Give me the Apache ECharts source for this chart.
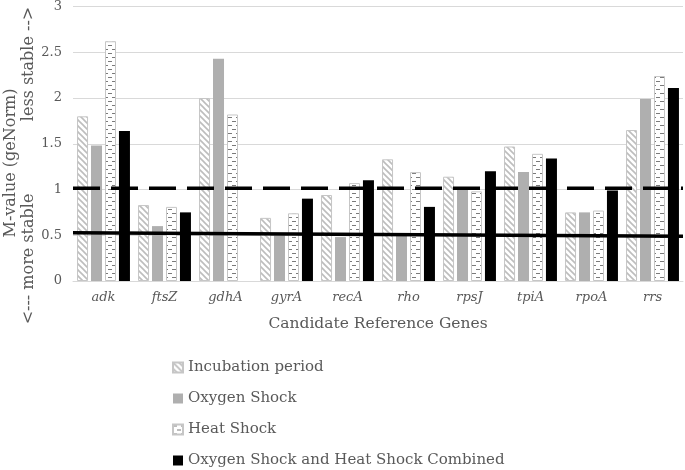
<!DOCTYPE html>
<html>
<head>
<meta charset="utf-8">
<script src="https://cdn.jsdelivr.net/npm/echarts@6/dist/echarts.min.js"></script>
<style>html,body{margin:0;padding:0;background:#fff}#c{width:685px;height:470px}</style>
</head>
<body>
<div id="c"></div>
<script>
var genes = ['adk','ftsZ','gdhA','gyrA','recA','rho','rpsJ','tpiA','rpoA','rrs'];
var seriesNames = ['Incubation period','Oxygen Shock','Heat Shock','Oxygen Shock and Heat Shock Combined'];
var incubation = [1.80, 0.83, 2.00, 0.69, 0.94, 1.33, 1.14, 1.47, 0.75, 1.65];
var oxygen     = [1.48, 0.60, 2.43, 0.50, 0.48, 0.50, 1.00, 1.19, 0.75, 1.99];
var heat       = [2.62, 0.81, 1.82, 0.74, 1.07, 1.19, 0.98, 1.39, 0.77, 2.24];
var combined   = [1.64, 0.75, null, 0.90, 1.10, 0.81, 1.20, 1.34, 0.99, 2.11];
var yTicks = [0, 0.5, 1, 1.5, 2, 2.5, 3];
var dashedLine = [1.015, 1.015];
var solidLine = [0.527, 0.49];

var FONT = 'DejaVu Serif';
var TXT = '#595959';

function diagPattern(){
  var c = document.createElement('canvas'); c.width = 6; c.height = 6;
  var g = c.getContext('2d');
  g.fillStyle = '#fff'; g.fillRect(0,0,6,6);
  g.strokeStyle = '#bdbdbd'; g.lineWidth = 1.6;
  g.beginPath();
  g.moveTo(-1,-1); g.lineTo(7,7);
  g.moveTo(-4,2); g.lineTo(4,10);
  g.moveTo(2,-4); g.lineTo(10,4);
  g.stroke();
  return {image: c, repeat: 'repeat'};
}
function dashPattern(){
  var c = document.createElement('canvas'); c.width = 8; c.height = 8;
  var g = c.getContext('2d');
  g.fillStyle = '#fff'; g.fillRect(0,0,8,8);
  g.fillStyle = '#7a7a7a';
  g.fillRect(0,1,4,1);
  g.fillRect(4,5,4,1);
  return {image: c, repeat: 'repeat'};
}

var chart = echarts.init(document.getElementById('c'), null, {renderer:'canvas'});
var barBase = {type:'bar', barWidth: 11, barGap: '27%', xAxisIndex:0, yAxisIndex:0};
var option = {
  animation: false,
  grid: {left: 73, right: 2, top: 4, bottom: 189, containLabel: false},
  xAxis: [
    {type:'category', data: genes,
     axisLine:{lineStyle:{color:'#d9d9d9', width:1}}, axisTick:{show:false},
     axisLabel:{color:TXT, fontFamily:FONT, fontStyle:'italic', fontSize:13, margin:10},
     name:'Candidate Reference Genes', nameLocation:'middle', nameGap:35,
     nameTextStyle:{color:TXT, fontFamily:FONT, fontSize:15.5}},
    {type:'value', min:0, max:1, show:false}
  ],
  yAxis: {type:'value', min: yTicks[0], max: yTicks[yTicks.length-1], interval: 0.5,
    axisLine:{show:false}, axisTick:{show:false},
    splitLine:{lineStyle:{color:'#d9d9d9', width:1}},
    axisLabel:{color:TXT, fontFamily:FONT, fontSize:13, margin:11}},
  legend: {orient:'vertical', left: 172, top: 360, padding: 0,
    itemWidth: 10, itemHeight: 10, itemGap: 16,
    data: seriesNames, icon:'rect',
    textStyle:{color:TXT, fontFamily:FONT, fontSize:15, lineHeight:14, padding:[0,0,0,0]}},
  graphic: [
    {type:'text', rotation: Math.PI/2, x: 3, y: 163,
     style:{text:'M-value (geNorm)', fill:TXT, font:'16px "'+FONT+'"', align:'center', verticalAlign:'top'}},
    {type:'text', rotation: Math.PI/2, x: 21, y: 64,
     style:{text:'less stable -->', fill:TXT, font:'16px "'+FONT+'"', align:'center', verticalAlign:'top'}},
    {type:'text', rotation: Math.PI/2, x: 21, y: 259,
     style:{text:'<--- more stable', fill:TXT, font:'16px "'+FONT+'"', align:'center', verticalAlign:'top'}}
  ],
  series: [
    Object.assign({}, barBase, {name: seriesNames[0], data: incubation,
      itemStyle:{color: diagPattern(), borderColor:'#c6c6c6', borderWidth:1}}),
    Object.assign({}, barBase, {name: seriesNames[1], data: oxygen,
      itemStyle:{color:'#afafaf'}}),
    Object.assign({}, barBase, {name: seriesNames[2], data: heat,
      itemStyle:{color: dashPattern(), borderColor:'#c6c6c6', borderWidth:1}}),
    Object.assign({}, barBase, {name: seriesNames[3], data: combined,
      itemStyle:{color:'#000000'}}),
    {type:'line', name:'threshold', xAxisIndex:1, yAxisIndex:0, symbol:'none', silent:true,
     data: [[0, dashedLine[0]], [1, dashedLine[1]]],
     lineStyle:{color:'#000', width:3.5, type:[27,11]}, z: 5},
    {type:'line', name:'mean', xAxisIndex:1, yAxisIndex:0, symbol:'none', silent:true,
     data: [[0, solidLine[0]], [1, solidLine[1]]],
     lineStyle:{color:'#000', width:3.5}, z: 5}
  ]
};
chart.setOption(option);
</script>
</body>
</html>
